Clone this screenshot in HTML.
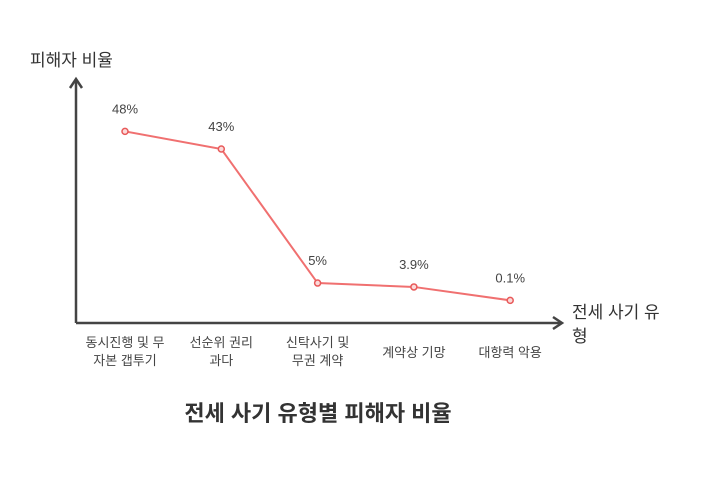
<!DOCTYPE html>
<html><head><meta charset="utf-8"><style>
body{margin:0;background:#fff;width:702px;height:480px;overflow:hidden}
svg text{font-family:"Liberation Sans","Noto Sans CJK KR",sans-serif}
</style></head><body>
<svg id="c" width="702" height="480">
<text x="30" y="66" font-size="17" fill="#333">피해자 비율</text>
<text x="572" y="318" font-size="17" fill="#333">전세 사기 유<tspan x="572" dy="24">형</tspan></text>
<line x1="76" y1="79" x2="76" y2="323" stroke="#444" stroke-width="2.5"/>
<polyline points="70,88 76,79 82,88" fill="none" stroke="#444" stroke-width="2.5"/>
<line x1="76" y1="323" x2="562" y2="323" stroke="#444" stroke-width="2.5"/>
<polyline points="553,317 562,323 553,329" fill="none" stroke="#444" stroke-width="2.5"/>
<text x="318" y="421" font-size="22" font-weight="bold" fill="#333" text-anchor="middle">전세 사기 유형별 피해자 비율</text>
<g id="marks"></g>
</svg>
<script>
const categories=[["동시진행 및 무","자본 갭투기"],["선순위 권리","과다"],["신탁사기 및","무권 계약"],["계약상 기망"],["대항력 악용"]];
const values=[48,43,5,3.9,0.1];
const labels=["48%","43%","5%","3.9%","0.1%"];
const NS="http://www.w3.org/2000/svg";
const g=document.getElementById('marks');
function xs(i){return 125+i*96.3;}
function ys(v){return 300.7-v*3.528;}
function el(t,a){const e=document.createElementNS(NS,t);for(const k in a)e.setAttribute(k,a[k]);g.appendChild(e);return e;}
const line=el('polyline',{points:values.map((v,i)=>xs(i)+','+ys(v)).join(' '),fill:'none',stroke:'#f07070','stroke-width':2});


values.forEach((v,i)=>{
 const p=el('circle',{cx:xs(i),cy:ys(v),r:3,fill:'#fbdada',stroke:'#e85a5a','stroke-width':1.5});
 
 
 const t=el('text',{x:xs(i),y:ys(v)-18,'font-size':13,fill:'#444','text-anchor':'middle'});
 t.textContent=labels[i];
 
 
 const c=categories[i];
 c.forEach((s,j)=>{
  const y=c.length===1?357:347+j*18;
  const tt=el('text',{x:xs(i),y:y,'font-size':13,fill:'#444','text-anchor':'middle'});
  tt.textContent=s;
  
  
 });
});
</script>
</body></html>
